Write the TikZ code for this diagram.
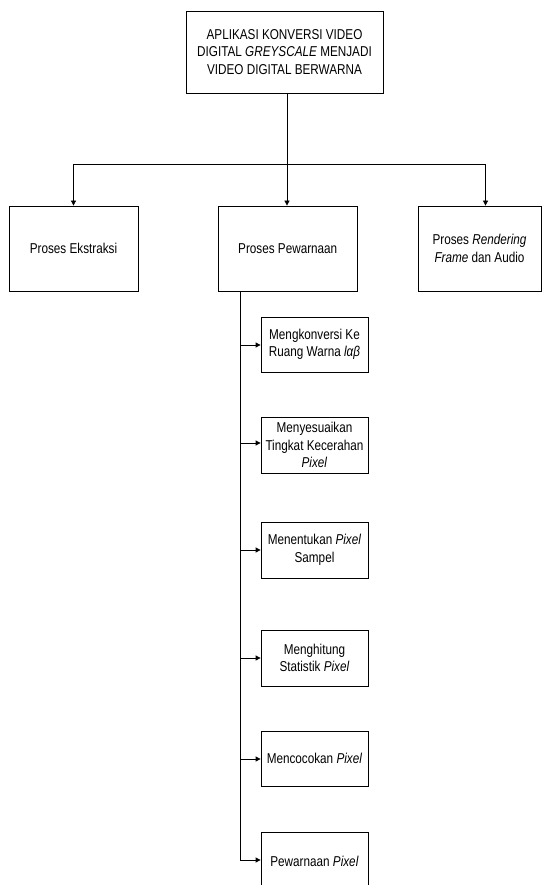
\documentclass[tikz,border=0pt]{standalone}
\usepackage{fontspec}
\setmainfont[FakeStretch=0.82]{Liberation Sans}
\usetikzlibrary{arrows.meta}
\begin{document}
\begin{tikzpicture}[x=1pt,y=-1pt,
  box/.style={draw, line width=0.8pt, rectangle, align=center, inner sep=1pt,
    font=\fontsize{14.3}{17.5}\selectfont},
  conn/.style={line width=0.8pt},
  arr/.style={line width=0.8pt, -{Triangle[length=5pt,width=5pt]}}]
\useasboundingbox (0,0) rectangle (542,885);
% top
\node[box, minimum width=197pt, minimum height=82pt] (top) at (284.5,52)
  {APLIKASI KONVERSI VIDEO\\DIGITAL \textit{GREYSCALE} MENJADI\\VIDEO DIGITAL BERWARNA};
% level 1
\node[box, minimum width=129pt, minimum height=85pt] (eks) at (73.5,248.5) {Proses Ekstraksi};
\node[box, minimum width=138.5pt, minimum height=85pt] (pew) at (287.75,248.5) {Proses Pewarnaan};
\node[box, minimum width=123pt, minimum height=85pt] (ren) at (479.5,248.5) {Proses \textit{Rendering}\\\textit{Frame} dan Audio};
% junctions
\coordinate (jt) at (287,93);
\coordinate (jm) at (287,164);
\coordinate (jl) at (73.5,164);
\coordinate (jr) at (485.5,164);
\draw[conn] (jt) -- (jm);
\draw[conn] (jl) -- (jr);
\draw[arr] (jl) -- (jl |- eks.north);
\draw[arr] (jm) -- (jm |- pew.north);
\draw[arr] (jr) -- (jr |- ren.north);
% sub boxes
\tikzset{sub/.style={box, minimum width=107pt, minimum height=56pt}}
\node[sub, minimum height=55pt] (s1) at (314.5,344.5) {Mengkonversi Ke\\Ruang Warna \textit{lαβ}};
\node[sub] (s2) at (314.5,445) {Menyesuaikan\\Tingkat Kecerahan\\\textit{Pixel}};
\node[sub] (s3) at (314.5,550) {Menentukan \textit{Pixel}\\Sampel};
\node[sub] (s4) at (314.5,658) {Menghitung\\Statistik \textit{Pixel}};
\node[sub, minimum height=55pt] (s5) at (314.5,758.5) {Mencocokan \textit{Pixel}};
\node[sub, minimum height=58pt] (s6) at (314.5,861) {Pewarnaan \textit{Pixel}};
% trunk
\coordinate (tt) at (240,291);
\coordinate (tb) at (240,860);
\draw[conn] (tt) -- (tb);
\coordinate (a1) at (240,345);
\coordinate (a2) at (240,443);
\coordinate (a3) at (240,550);
\coordinate (a4) at (240,658);
\coordinate (a5) at (240,759);
\draw[arr] (a1) -- (a1 -| s1.west);
\draw[arr] (a2) -- (a2 -| s2.west);
\draw[arr] (a3) -- (a3 -| s3.west);
\draw[arr] (a4) -- (a4 -| s4.west);
\draw[arr] (a5) -- (a5 -| s5.west);
\draw[arr] (tb) -- (tb -| s6.west);
\end{tikzpicture}
\end{document}
